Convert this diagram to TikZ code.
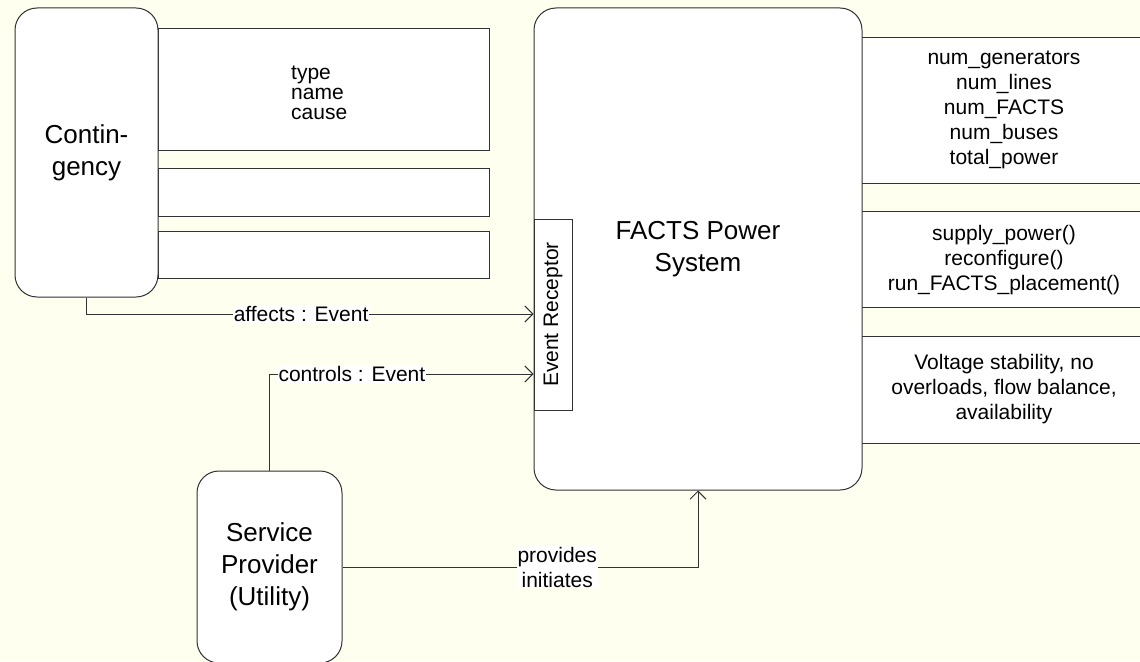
\documentclass[tikz,border=0pt]{standalone}
\usepackage{fontspec}
\setmainfont{Liberation Sans}
\usetikzlibrary{arrows.meta}
\definecolor{paper}{RGB}{255,255,240}
\definecolor{ink}{RGB}{50,50,50}
\tikzset{
  small/.style={font=\fontsize{21}{25}\selectfont},
  big/.style={font=\fontsize{26}{32}\selectfont},
  roundbox/.style={draw=ink, line width=1pt, fill=white, rounded corners=22pt,
                   inner sep=0pt, align=center, big},
  plainbox/.style={draw=ink, line width=1pt, fill=white, inner sep=0pt},
  conn/.style={draw=ink, line width=1pt},
  arr/.style={conn, -{Straight Barb[length=8pt,width=16pt,line width=1pt]}},
  lab/.style={fill=white, inner sep=1pt, small, align=center},
  txt/.style={small, align=center, inner sep=0pt},
  attrline/.style={small, inner sep=0pt, anchor=base west},
}
\begin{document}
\begin{tikzpicture}[x=1pt, y=-1pt]
\useasboundingbox (0,0) rectangle (1140,661);
\fill[paper] (0,0) rectangle (1140,661);

% attribute compartments of the contingency class
\draw[plainbox] (158,29) rectangle (489,150);
\draw[plainbox] (158,168) rectangle (489,216);
\draw[plainbox] (158,231) rectangle (489,278);
\node[attrline] (attr1) at (291,80)  {type};
\node[attrline] (attr2) at (291,99.5) {name};
\node[attrline] (attr3) at (291,119) {cause};

% compartments of the power system class
\begin{scope}
\clip (0,0) rectangle (1140,661);
\foreach \ya/\yb in {38/183, 211/307, 336/443}{
  \fill[white] (862,\ya) rectangle (1145,\yb);
  \draw[conn] (862,\ya) -- (1145,\ya);
  \draw[conn] (862,\yb) -- (1145,\yb);
}
\end{scope}
\node[txt] (attrs) at (1004,110)
  {num\_generators\\num\_lines\\num\_FACTS\\num\_buses\\total\_power};
\node[txt] (meths) at (1004,260)
  {supply\_power()\\reconfigure()\\run\_FACTS\_placement()};
\node[txt] (cons) at (1004,389)
  {Voltage stability, no\\overloads, flow balance,\\availability};

% main classes
\node[roundbox, minimum width=143pt, minimum height=289pt] (cont) at (86.5,152.5)
  {Contin-\\gency};
\node[roundbox, minimum width=328pt, minimum height=482pt] (facts) at (698,249)
  {FACTS Power\\System};
\node[roundbox, minimum width=145pt, minimum height=192pt] (sp) at (269.5,567)
  {Service\\Provider\\(Utility)};

% event port on the power system
\node[plainbox, minimum width=38pt, minimum height=191pt, small] (er) at (553,314.5)
  {\rotatebox{90}{Event Receptor}};

% associations
\draw[arr] (cont.south) |- (er.west |- 0,314)
  node[lab, pos=0.74] {affects : Event};
\draw[arr] (sp.north) |- (er.west |- 0,374)
  node[lab, pos=0.656] {controls : Event};
\draw[arr] (sp.east) -| (facts.south)
  node[lab, pos=0.302] {provides\\initiates};
\end{tikzpicture}
\end{document}
